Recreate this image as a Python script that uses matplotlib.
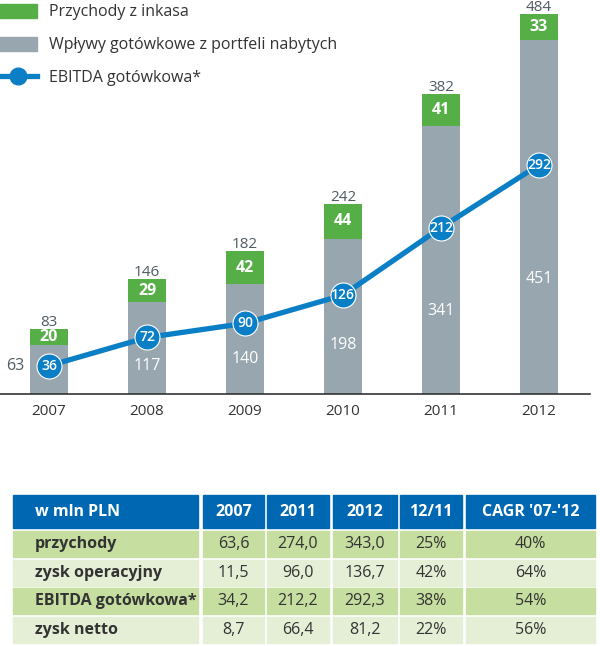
import matplotlib
matplotlib.use("Agg")
import matplotlib.pyplot as plt
from matplotlib.patches import Rectangle
from matplotlib.lines import Line2D
import numpy as np

plt.rcParams['font.family'] = ['Open Sans', 'DejaVu Sans']

years = ["2007", "2008", "2009", "2010", "2011", "2012"]
portfolio = [63, 117, 140, 198, 341, 451]
collection = [20, 29, 42, 44, 41, 33]
totals = [83, 146, 182, 242, 382, 484]
ebitda = [36, 72, 90, 126, 212, 292]

legend_labels = ["Przychody z inkasa", "Wpływy gotówkowe z portfeli nabytych", "EBITDA gotówkowa*"]

table_header = ["w mln PLN", "2007", "2011", "2012", "12/11", "CAGR '07-'12"]
table_rows = ["przychody", "zysk operacyjny", "EBITDA gotówkowa*", "zysk netto"]
table_values = [
    ["63,6", "274,0", "343,0", "25%", "40%"],
    ["11,5", "96,0", "136,7", "42%", "64%"],
    ["34,2", "212,2", "292,3", "38%", "54%"],
    ["8,7", "66,4", "81,2", "22%", "56%"],
]

GREEN = "#55af46"
GREY = "#98a6b0"
BLUE = "#0a7fc6"
HEAD = "#0068b3"
ROW_DARK = "#c6de9f"
ROW_LIGHT = "#e4efd6"
TXT = "#333333"
TOT = "#4f5b63"

W, H = 600, 646
fig = plt.figure(figsize=(W / 100, H / 100), dpi=100)

# ---- chart ----
ax = fig.add_axes([0, 1 - 394 / H, 590 / W, 394 / H])
x = np.arange(len(years))
bw = 0.39
ax.bar(x, portfolio, bw, color=GREY, zorder=1)
ax.bar(x, collection, bw, bottom=portfolio, color=GREEN, zorder=1)
ax.plot(x, ebitda, color=BLUE, lw=3.8, zorder=2, solid_capstyle='butt')
ax.plot(x, ebitda, 'o', color=BLUE, ms=18, mec='white', mew=0.8, zorder=3)

for i in range(len(years)):
    ax.text(x[i], ebitda[i], str(ebitda[i]), ha='center', va='center', color='white',
            fontsize=10, fontweight='semibold', zorder=4)
    ax.text(x[i], portfolio[i] + collection[i] / 2, str(collection[i]), ha='center', va='center',
            color='white', fontsize=11.5, fontweight='bold', zorder=4)
    ax.text(x[i], totals[i] + 4, str(totals[i]), ha='center', va='baseline', color=TOT,
            fontsize=11, zorder=4)
    if portfolio[i] < 100:
        ax.text(x[i] - bw / 2 - 0.06, ebitda[i], str(portfolio[i]), ha='right', va='center',
                color=TOT, fontsize=11.5, zorder=4)
    else:
        ax.text(x[i], ebitda[i] / 2, str(portfolio[i]), ha='center', va='center',
                color='white', fontsize=11.5, zorder=4)

ax.set_xlim(-0.5, 5.52)
ax.set_ylim(0, 502)
for s in ['top', 'right', 'left']:
    ax.spines[s].set_visible(False)
ax.spines['bottom'].set_color('#333333')
ax.spines['bottom'].set_linewidth(1.2)
ax.set_yticks([])
ax.set_xticks(x)
ax.set_xticklabels(years, fontsize=11, color=TXT, family=['Liberation Sans Narrow', 'Open Sans', 'DejaVu Sans'])
ax.tick_params(axis='x', length=0, pad=7)

handles = [
    Rectangle((0, 0), 1, 1, color=GREEN),
    Rectangle((0, 0), 1, 1, color=GREY),
    Line2D([0], [0], color=BLUE, lw=3.8, marker='o', ms=12, mec=BLUE),
]
leg = ax.legend(handles, legend_labels, loc='upper left', bbox_to_anchor=(0.0, 0.99),
                frameon=False, fontsize=11.5, handlelength=2.3, handleheight=0.95,
                labelspacing=1.03, handletextpad=0.75, borderaxespad=0, borderpad=0)
for t in leg.get_texts():
    t.set_color(TXT)

# ---- table ----
tax = fig.add_axes([0, 0, 1, 1], zorder=5)
tax.set_xlim(0, W)
tax.set_ylim(H, 0)
tax.axis('off')

cols = [(13, 198), (203, 264), (267, 329), (333, 397), (400, 462), (466, 595)]
header_y = (495, 528)
row_y0 = 531
row_h = 26
row_pitch = 28.7

for (c0, c1), lab in zip(cols, table_header):
    tax.add_patch(Rectangle((c0, header_y[0]), c1 - c0, header_y[1] - header_y[0], color=HEAD))
    if lab == table_header[0]:
        tax.text(c0 + 22, sum(header_y) / 2, lab, ha='left', va='center', color='white',
                 fontsize=11.5, fontweight='bold')
    else:
        tax.text((c0 + c1) / 2, sum(header_y) / 2, lab, ha='center', va='center', color='white',
                 fontsize=11.5, fontweight='bold')

for r, (rl, vals) in enumerate(zip(table_rows, table_values)):
    y0 = row_y0 + r * row_pitch
    color = ROW_DARK if r % 2 == 0 else ROW_LIGHT
    for ci, (c0, c1) in enumerate(cols):
        tax.add_patch(Rectangle((c0, y0), c1 - c0, row_h, color=color))
    yc = y0 + row_h / 2
    tax.text(cols[0][0] + 22, yc, rl, ha='left', va='center', color=TXT, fontsize=11.5,
             fontweight='bold')
    for ci, v in enumerate(vals):
        c0, c1 = cols[ci + 1]
        tax.text((c0 + c1) / 2, yc, v, ha='center', va='center', color=TXT, fontsize=11.5)

fig.savefig("out.png", dpi=100)
